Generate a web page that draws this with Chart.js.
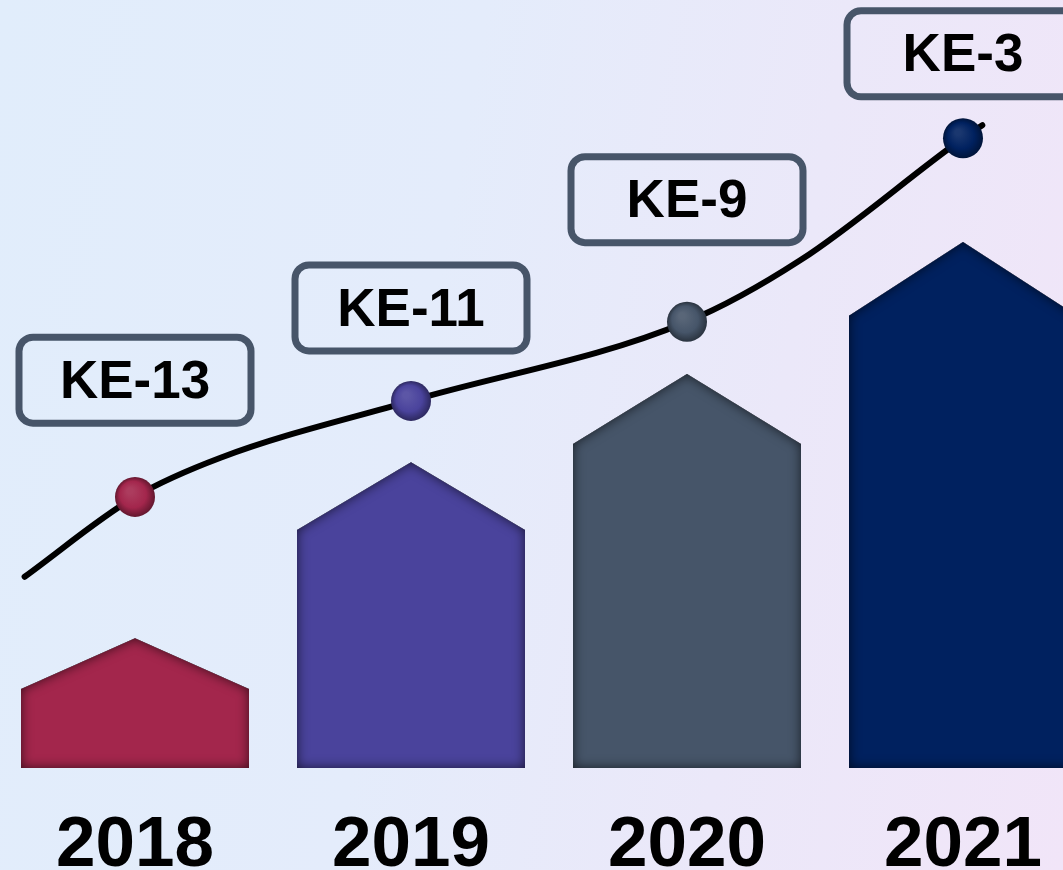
<!DOCTYPE html>
<html>
<head>
<meta charset="utf-8">
<script src="https://cdn.jsdelivr.net/npm/chart.js@4.4.0/dist/chart.umd.min.js"></script>
<style>
  html, body { margin: 0; padding: 0; width: 1063px; height: 870px; overflow: hidden; }
  body {
    position: relative;
    background: linear-gradient(100deg, #e1edfb 0%, #e4ecfb 40%, #ebe8f9 70%, #f1e5f8 100%);
  }
  #wrap { position: absolute; left: -3px; top: 0; width: 1104px; height: 870px; }
</style>
</head>
<body>
<div id="wrap"><canvas id="chart" width="1104" height="870"></canvas></div>
<script>
// data (y in units of 0..100)
const years = ["2018", "2019", "2020", "2021"];
const wallValues = [10.3, 31.0, 42.2, 58.9];   // house body height
const roofValues = [16.9, 39.8, 51.3, 68.5];   // roof peak
const rankLabels = ["KE-13", "KE-11", "KE-9", "KE-3"];
const rankValues = [35.3, 47.8, 58.1, 82.0];   // dots on the trend curve
const labelLevels = [50.5, 59.9, 74.0, 93.0];  // where each rank box sits
// trend curve (x in category units, 0 = 2018)
const trendX = [-0.4, 0, 0.31, 1, 2, 2.41, 3, 3.07];
const trendY = [24.9, 35.3, 40.4, 47.8, 58.1, 66.1, 82.0, 83.7];
const barColors = ["#a3264c", "#4a439c", "#465569", "#00215f"];

const FONT = '"Liberation Sans", Arial, sans-serif';

function shade(hex, amt) {
  const n = parseInt(hex.slice(1), 16);
  const c = [n >> 16, (n >> 8) & 255, n & 255].map(v =>
    Math.max(0, Math.min(255, Math.round(amt >= 0 ? v + (255 - v) * amt : v * (1 + amt)))));
  return `rgb(${c[0]},${c[1]},${c[2]})`;
}

function housePath(ctx, left, right, wallTop, peak, base) {
  ctx.moveTo(left, base);
  ctx.lineTo(left, wallTop);
  ctx.lineTo((left + right) / 2, peak);
  ctx.lineTo(right, wallTop);
  ctx.lineTo(right, base);
  ctx.closePath();
}

// ---------- houses: roof + inner shadow on top of the library bars ----------
const housePlugin = {
  id: "houses",
  afterDatasetDraw(chart, args) {
    if (args.index !== 0) return;
    const ctx = chart.ctx;
    const y = chart.scales.y;
    args.meta.data.forEach((el, i) => {
      const left = el.x - el.width / 2, right = el.x + el.width / 2;
      const peak = y.getPixelForValue(roofValues[i]);
      ctx.save();
      ctx.beginPath();
      housePath(ctx, left, right, el.y, peak, el.base);
      ctx.fillStyle = barColors[i];
      ctx.fill();
      ctx.clip();
      ctx.beginPath();
      ctx.rect(left - 200, peak - 200, el.width + 400, el.base - peak + 400);
      housePath(ctx, left, right, el.y, peak, el.base);
      ctx.shadowColor = "rgba(0,0,0,0.65)";
      ctx.shadowBlur = 12;
      ctx.fillStyle = "#000";
      ctx.fill("evenodd");
      ctx.restore();
    });
  },
};

// ---------- shiny dots + rank boxes ----------
const markPlugin = {
  id: "marks",
  afterDatasetsDraw(chart) {
    const ctx = chart.ctx;
    const y = chart.scales.y;
    const x = chart.scales.x;
    rankValues.forEach((v, i) => {
      const px = x.getPixelForValue(i), py = y.getPixelForValue(v);
      const col = barColors[i];
      const g = ctx.createRadialGradient(px - 5, py - 6, 3, px, py, 20);
      g.addColorStop(0, shade(col, 0.1));
      g.addColorStop(0.6, col);
      g.addColorStop(1, shade(col, -0.4));
      ctx.beginPath();
      ctx.arc(px, py, 20, 0, Math.PI * 2);
      ctx.fillStyle = g;
      ctx.fill();

      const cy = y.getPixelForValue(labelLevels[i]);
      const w = 232, h = 86;
      ctx.beginPath();
      ctx.roundRect(px - w / 2, cy - h / 2, w, h, 14);
      ctx.lineWidth = 7;
      ctx.strokeStyle = "#475569";
      ctx.stroke();
      ctx.font = `bold 53px ${FONT}`;
      ctx.fillStyle = "#000";
      ctx.textAlign = "center";
      ctx.textBaseline = "middle";
      ctx.fillText(rankLabels[i], px, cy + 3);
    });
  },
};

new Chart(document.getElementById("chart"), {
  type: "bar",
  data: {
    labels: years,
    datasets: [
      {
        label: "Score",
        data: wallValues,
        backgroundColor: barColors,
        borderWidth: 0,
        grouped: false,
        barPercentage: 0.826,
        categoryPercentage: 1,
      },
      {
        type: "line",
        label: "Rank",
        xAxisID: "xl",
        data: trendX.map((v, i) => ({ x: v, y: trendY[i] })),
        borderColor: "#000",
        borderWidth: 6,
        borderCapStyle: "round",
        cubicInterpolationMode: "monotone",
        pointRadius: 0,
        clip: false,
      },
    ],
  },
  options: {
    responsive: false,
    animation: false,
    devicePixelRatio: 1,
    layout: { padding: 0 },
    plugins: { legend: { display: false }, tooltip: { enabled: false } },
    scales: {
      x: {
        grid: { display: false, drawTicks: false },
        border: { display: false },
        ticks: { color: "#000", padding: 36, font: { family: FONT, size: 71, weight: "bold" } },
        afterFit: (s) => { s.height = 102; },
      },
      xl: { type: "linear", display: false, offset: false, grace: 0, min: -0.5, max: 3.5 },
      y: { display: false, min: 0, max: 100 },
    },
  },
  plugins: [housePlugin, markPlugin],
});
</script>
</body>
</html>
